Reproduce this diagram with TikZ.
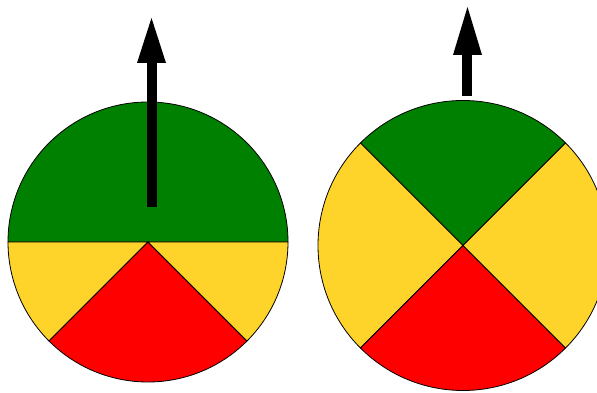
\documentclass[tikz,border=0pt]{standalone}
\definecolor{gr}{RGB}{0,128,0}
\definecolor{ye}{RGB}{255,212,42}
\definecolor{rd}{RGB}{255,0,0}
\begin{document}
\begin{tikzpicture}[x=1pt,y=1pt,
  seg/.style={draw=black, line width=0.8pt, line join=round},
  arrowfill/.style={fill=black}]
\useasboundingbox (0,0) rectangle (597,393);
\clip (0,0) rectangle (597,393);
% left disc
\coordinate (L) at (148,151);
\filldraw[seg, fill=gr] (L) -- ++(180:140) arc (180:0:140) -- cycle;
\filldraw[seg, fill=ye] (L) -- ++(180:140) arc (180:225:140) -- cycle;
\filldraw[seg, fill=rd] (L) -- ++(225:140) arc (225:315:140) -- cycle;
\filldraw[seg, fill=ye] (L) -- ++(315:140) arc (315:360:140) -- cycle;
% left arrow
\fill[arrowfill] (147,186) rectangle (157,331);
\fill[arrowfill] (137,330) -- (166,330) -- (151.5,375) -- cycle;
% right disc
\coordinate (R) at (463,147.5);
\filldraw[seg, fill=gr] (R) -- ++(45:145) arc (45:135:145) -- cycle;
\filldraw[seg, fill=ye] (R) -- ++(135:145) arc (135:225:145) -- cycle;
\filldraw[seg, fill=rd] (R) -- ++(225:145) arc (225:315:145) -- cycle;
\filldraw[seg, fill=ye] (R) -- ++(315:145) arc (315:405:145) -- cycle;
% right arrow
\fill[arrowfill] (462,297) rectangle (472,339);
\fill[arrowfill] (453,338) -- (482,338) -- (467.5,386) -- cycle;
\end{tikzpicture}
\end{document}
